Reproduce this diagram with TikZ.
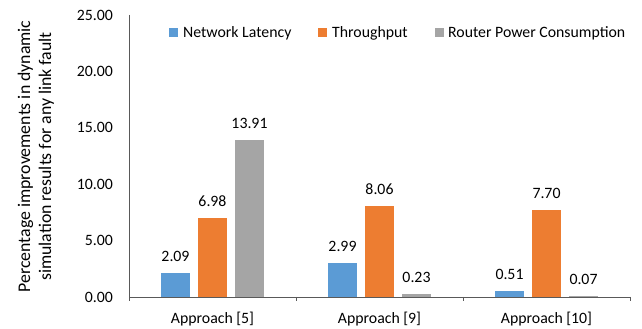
\documentclass[tikz,border=0pt]{standalone}
\usepackage{fontspec}
\setmainfont{Carlito}
\usepackage{tikz}

\definecolor{latency}{HTML}{5B9BD5}
\definecolor{throughput}{HTML}{ED7D31}
\definecolor{power}{HTML}{A5A5A5}
\definecolor{axisgray}{HTML}{595959}

\begin{document}
\begin{tikzpicture}[
		x=1pt, y=1pt,
		every node/.style={font=\fontsize{15.8}{20}\selectfont, inner sep=0pt},
		key/.style={minimum size=9pt, inner sep=0pt},
		axis/.style={draw=axisgray, line width=0.9pt}
	]
  \useasboundingbox (0,0) rectangle (642,329);
  % legend
  \node (key_lat) [key, fill=latency] at (173.5,296) {};
  \node (txt_lat) [anchor=west] at (183,296) {Network Latency};
  \node (key_thr) [key, fill=throughput] at (322.5,296) {};
  \node (txt_thr) [anchor=west] at (332,296) {Throughput};
  \node (key_pow) [key, fill=power] at (439.5,296) {};
  \node (txt_pow) [anchor=west] at (448,296) {Router Power Consumption};
  % y title
  \node (y_title) [rotate=90, align=center, font=\fontsize{17.8}{21}\selectfont] at (36,172.5) {Percentage improvements in dynamic\\simulation results for any link fault};
  \begin{scope}[shift={(129,32)}, y=11.28pt]
  % bars
  \fill[latency] (32,0) rectangle (61,2.09);
  \fill[throughput] (69,0) rectangle (98,6.98);
  \fill[power] (106,0) rectangle (135,13.91);
  \fill[latency] (199,0) rectangle (228,2.99);
  \fill[throughput] (236,0) rectangle (265,8.06);
  \fill[power] (273,0) rectangle (302,0.23);
  \fill[latency] (366,0) rectangle (395,0.51);
  \fill[throughput] (403,0) rectangle (432,7.70);
  \fill[power] (440,0) rectangle (469,0.07);
  % values
  \node (v_lat_5) [yshift=17pt] at (46.5,2.09) {2.09};
  \node (v_thr_5) [yshift=17pt] at (83.5,6.98) {6.98};
  \node (v_pow_5) [yshift=17pt] at (120.5,13.91) {13.91};
  \node (v_lat_9) [yshift=17pt] at (213.5,2.99) {2.99};
  \node (v_thr_9) [yshift=17pt] at (250.5,8.06) {8.06};
  \node (v_pow_9) [yshift=17pt] at (287.5,0.23) {0.23};
  \node (v_lat_10) [yshift=17pt] at (380.5,0.51) {0.51};
  \node (v_thr_10) [yshift=17pt] at (417.5,7.70) {7.70};
  \node (v_pow_10) [yshift=17pt] at (454.5,0.07) {0.07};
  % axes
  \draw[axis] (0,25) -- (0,0) -- (501,0);
  \draw[axis] (0,0) -- ++(0,-4pt);
  \draw[axis] (167,0) -- ++(0,-4pt);
  \draw[axis] (334,0) -- ++(0,-4pt);
  \draw[axis] (501,0) -- ++(0,-4pt);
  \node (t_0) [anchor=east] at (-16,0) {0.00};
  \node (t_5) [anchor=east] at (-16,5) {5.00};
  \node (t_10) [anchor=east] at (-16,10) {10.00};
  \node (t_15) [anchor=east] at (-16,15) {15.00};
  \node (t_20) [anchor=east] at (-16,20) {20.00};
  \node (t_25) [anchor=east] at (-16,25) {25.00};
  \node (c_5) [yshift=-22pt] at (83.5,0) {Approach [5]};
  \node (c_9) [yshift=-22pt] at (250.5,0) {Approach [9]};
  \node (c_10) [yshift=-22pt] at (417.5,0) {Approach [10]};
  \end{scope}
\end{tikzpicture}
\end{document}
